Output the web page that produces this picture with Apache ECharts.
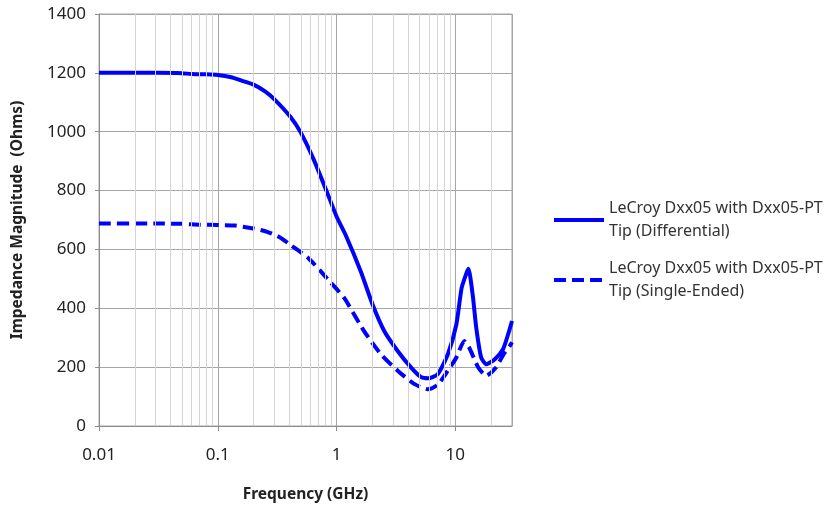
<!DOCTYPE html>
<html>
<head>
<meta charset="utf-8">
<script src="https://cdn.jsdelivr.net/npm/echarts@6/dist/echarts.min.js"></script>
<style>
  html, body { margin: 0; padding: 0; background: #fff; }
  #main { width: 827px; height: 508px; }
</style>
</head>
<body>
<div id="main"></div>
<script>
// 阻抗曲线
var nameDiff = 'LeCroy Dxx05 with Dxx05-PT Tip (Differential)';
var nameSe = 'LeCroy Dxx05 with Dxx05-PT Tip (Single-Ended)';

var freqDiff = [0.01, 0.02, 0.03, 0.05, 0.06, 0.08, 0.1, 0.13, 0.16, 0.2, 0.25, 0.3, 0.41, 0.5, 0.64, 0.83, 1.0, 1.19, 1.6, 2.01, 2.52, 3.27, 4.23, 5.1, 5.9, 7.1, 8.65, 10.2, 11.3, 12.4, 12.9, 14.0, 15.0, 16.5, 18.2, 21.5, 25.2, 27.8, 30];
var zDiff = [1200, 1200, 1200, 1199, 1196, 1195, 1193, 1185, 1173, 1160, 1137, 1110, 1050, 997, 907, 795, 712, 650, 525, 413, 323, 255, 199, 167, 162, 176, 244, 345, 469, 519, 534, 446, 334, 233, 210, 227, 261, 311, 357];

var freqSe = [0.01, 0.03, 0.05, 0.07, 0.1, 0.14, 0.2, 0.26, 0.337, 0.41, 0.58, 0.89, 1.16, 1.7, 2.36, 3.27, 4.5, 5.85, 7.1, 8.65, 10.2, 11.9, 13.1, 15.6, 18.2, 22, 25.5, 28.5, 30];
var zSe = [688, 688, 687, 684, 683, 681, 671, 660, 640, 615, 570, 488, 435, 323, 244, 188, 143, 125, 140, 188, 233, 289, 266, 199, 171, 199, 244, 270, 285];

// 次网格线 2..9 每个十倍频
var minorGrid = [];
[0.01, 0.1, 1, 10].forEach(function (d) {
  for (var k = 2; k <= 9; k++) {
    if (d * k < 30) minorGrid.push(+(d * k).toPrecision(3));
  }
});

function pairs(xs, ys) {
  return xs.map(function (x, i) { return [x, ys[i]]; });
}

var font = 'Noto Sans';
var chart = echarts.init(document.getElementById('main'));

var legendText = {
  fontFamily: font,
  fontSize: 16,
  color: '#333',
  lineHeight: 23,
  padding: [23, 0, 0, 0]
};
function wrap(name) {
  return name.replace(' Tip', '\nTip');
}
function legendBox(name, top) {
  return {
    data: [name],
    left: 552, top: top, padding: 0,
    itemWidth: 50, itemHeight: 14,
    formatter: wrap,
    itemStyle: { color: 'transparent', borderColor: 'transparent', borderWidth: 0 },
    lineStyle: { width: 4 },
    textStyle: legendText
  };
}

var option = {
  animation: false,
  backgroundColor: '#fff',
  grid: {
    left: 99, right: 315, top: 14, bottom: 79,
    show: true, borderColor: '#a6a6a6', borderWidth: 1
  },
  legend: [legendBox(nameDiff, 185.5), legendBox(nameSe, 245.5)],
  xAxis: {
    type: 'log',
    logBase: 10,
    min: 0.01,
    max: 30,
    name: 'Frequency (GHz)',
    nameLocation: 'middle',
    nameGap: 61,
    nameTextStyle: { fontFamily: font, fontSize: 15.5, fontWeight: 'bold', color: '#222' },
    axisLine: { lineStyle: { color: '#8c8c8c' } },
    axisTick: { show: true, length: 5, lineStyle: { color: '#8c8c8c' } },
    axisLabel: {
      fontFamily: font, fontSize: 17, color: '#222', margin: 21,
      showMaxLabel: false
    },
    splitLine: { show: true, lineStyle: { color: '#a6a6a6' } }
  },
  yAxis: {
    type: 'value',
    min: 0,
    max: 1400,
    interval: 200,
    name: 'Impedance Magnitude  (Ohms)',
    nameLocation: 'middle',
    nameGap: 73,
    nameTextStyle: { fontFamily: font, fontSize: 15.5, fontWeight: 'bold', color: '#222' },
    axisLine: { show: true, lineStyle: { color: '#8c8c8c' } },
    axisTick: { show: true, length: 4, lineStyle: { color: '#8c8c8c' } },
    axisLabel: {
      fontFamily: font, fontSize: 17, color: '#222', margin: 13,
      formatter: function (v) { return String(v); }
    },
    splitLine: { show: true, lineStyle: { color: '#a6a6a6' } }
  },
  series: [{
    name: 'minor',
    type: 'line',
    data: [],
    z: 1,
    silent: true,
    markLine: {
      silent: true,
      symbol: ['none', 'none'],
      label: { show: false },
      lineStyle: { color: '#d4d4d4', type: 'solid', width: 1 },
      data: minorGrid.map(function (v) { return { xAxis: v }; })
    }
  }, {
    name: nameDiff,
    type: 'line',
    data: pairs(freqDiff, zDiff),
    showSymbol: false,
    symbol: 'none',
    smooth: 0.2,
    z: 3,
    color: '#0000ff',
    lineStyle: { color: '#0000ff', width: 4 }
  }, {
    name: nameSe,
    type: 'line',
    data: pairs(freqSe, zSe),
    showSymbol: false,
    symbol: 'none',
    smooth: 0.2,
    z: 3,
    color: '#0000ff',
    lineStyle: { color: '#0000ff', width: 4, type: [12, 6] }
  }]
};

chart.setOption(option);
</script>
</body>
</html>
